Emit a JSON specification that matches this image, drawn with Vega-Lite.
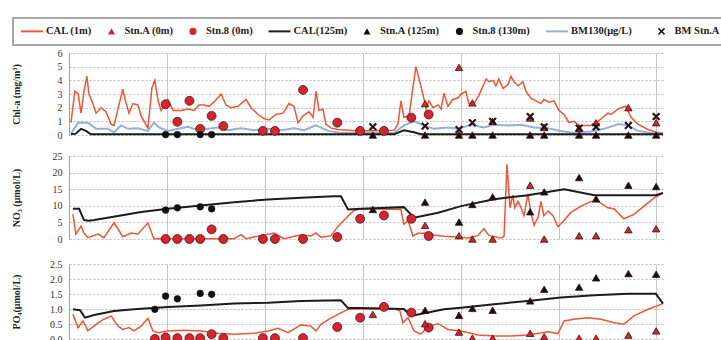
{
"$schema": "https://vega.github.io/schema/vega-lite/v6.json",
"padding": {"left": 10, "top": 17, "right": 0, "bottom": 0},
"autosize": {"type": "pad"},
"bounds": "flush",
"spacing": 21,
"datasets": {
"chl": [
{"series":"CAL (1m)","day":0.6,"value":0.9},{"series":"CAL (1m)","day":1.8,"value":3.2},{"series":"CAL (1m)","day":2.8,"value":3.0},{"series":"CAL (1m)","day":3.7,"value":1.6},{"series":"CAL (1m)","day":4.6,"value":3.2},{"series":"CAL (1m)","day":5.5,"value":4.3},{"series":"CAL (1m)","day":6.1,"value":3.0},{"series":"CAL (1m)","day":7.0,"value":2.5},{"series":"CAL (1m)","day":8.3,"value":1.6},{"series":"CAL (1m)","day":9.8,"value":2.0},{"series":"CAL (1m)","day":11.3,"value":1.7},{"series":"CAL (1m)","day":12.9,"value":0.8},{"series":"CAL (1m)","day":13.8,"value":0.7},{"series":"CAL (1m)","day":15.3,"value":2.2},{"series":"CAL (1m)","day":16.5,"value":3.35},{"series":"CAL (1m)","day":17.2,"value":2.6},{"series":"CAL (1m)","day":18.4,"value":1.6},{"series":"CAL (1m)","day":19.6,"value":2.3},{"series":"CAL (1m)","day":21.1,"value":2.2},{"series":"CAL (1m)","day":22.1,"value":1.4},{"series":"CAL (1m)","day":24.2,"value":0.5},{"series":"CAL (1m)","day":25.4,"value":3.45},{"series":"CAL (1m)","day":26.3,"value":4.0},{"series":"CAL (1m)","day":27.3,"value":2.5},{"series":"CAL (1m)","day":28.2,"value":1.8},{"series":"CAL (1m)","day":30.3,"value":2.6},{"series":"CAL (1m)","day":31.9,"value":1.8},{"series":"CAL (1m)","day":34.3,"value":1.8},{"series":"CAL (1m)","day":36.5,"value":1.9},{"series":"CAL (1m)","day":38.3,"value":1.8},{"series":"CAL (1m)","day":39.8,"value":2.2},{"series":"CAL (1m)","day":41.4,"value":2.2},{"series":"CAL (1m)","day":42.9,"value":2.1},{"series":"CAL (1m)","day":44.4,"value":2.4},{"series":"CAL (1m)","day":46.6,"value":3.0},{"series":"CAL (1m)","day":48.1,"value":2.2},{"series":"CAL (1m)","day":49.6,"value":2.0},{"series":"CAL (1m)","day":51.8,"value":2.1},{"series":"CAL (1m)","day":54.2,"value":2.6},{"series":"CAL (1m)","day":55.8,"value":2.0},{"series":"CAL (1m)","day":57.9,"value":1.5},{"series":"CAL (1m)","day":59.7,"value":1.2},{"series":"CAL (1m)","day":61.3,"value":1.1},{"series":"CAL (1m)","day":63.4,"value":1.5},{"series":"CAL (1m)","day":65.6,"value":1.6},{"series":"CAL (1m)","day":67.4,"value":2.3},{"series":"CAL (1m)","day":68.9,"value":2.1},{"series":"CAL (1m)","day":70.2,"value":0.9},{"series":"CAL (1m)","day":71.7,"value":1.4},{"series":"CAL (1m)","day":73.5,"value":1.7},{"series":"CAL (1m)","day":74.8,"value":1.3},{"series":"CAL (1m)","day":75.7,"value":3.2},{"series":"CAL (1m)","day":76.6,"value":1.8},{"series":"CAL (1m)","day":77.8,"value":1.9},{"series":"CAL (1m)","day":78.7,"value":0.8},{"series":"CAL (1m)","day":80.3,"value":0.5},{"series":"CAL (1m)","day":82.4,"value":0.4},{"series":"CAL (1m)","day":85.5,"value":0.35},{"series":"CAL (1m)","day":89.5,"value":0.3},{"series":"CAL (1m)","day":99.6,"value":0.35},{"series":"CAL (1m)","day":100.8,"value":0.8},{"series":"CAL (1m)","day":101.7,"value":2.5},{"series":"CAL (1m)","day":102.6,"value":1.3},{"series":"CAL (1m)","day":104.2,"value":1.4},{"series":"CAL (1m)","day":105.4,"value":3.5},{"series":"CAL (1m)","day":106.3,"value":5.0},{"series":"CAL (1m)","day":107.5,"value":3.9},{"series":"CAL (1m)","day":108.8,"value":2.6},{"series":"CAL (1m)","day":109.4,"value":1.9},{"series":"CAL (1m)","day":110.3,"value":2.5},{"series":"CAL (1m)","day":111.5,"value":2.0},{"series":"CAL (1m)","day":113.1,"value":2.2},{"series":"CAL (1m)","day":114.0,"value":1.9},{"series":"CAL (1m)","day":114.9,"value":3.05},{"series":"CAL (1m)","day":116.1,"value":2.1},{"series":"CAL (1m)","day":117.6,"value":2.6},{"series":"CAL (1m)","day":119.2,"value":2.7},{"series":"CAL (1m)","day":120.1,"value":3.0},{"series":"CAL (1m)","day":121.6,"value":3.2},{"series":"CAL (1m)","day":122.5,"value":2.3},{"series":"CAL (1m)","day":124.1,"value":2.3},{"series":"CAL (1m)","day":125.6,"value":2.9},{"series":"CAL (1m)","day":127.8,"value":4.1},{"series":"CAL (1m)","day":128.7,"value":3.9},{"series":"CAL (1m)","day":129.9,"value":4.0},{"series":"CAL (1m)","day":130.8,"value":3.6},{"series":"CAL (1m)","day":131.7,"value":4.1},{"series":"CAL (1m)","day":133.0,"value":3.4},{"series":"CAL (1m)","day":134.5,"value":3.7},{"series":"CAL (1m)","day":135.4,"value":4.3},{"series":"CAL (1m)","day":136.3,"value":3.9},{"series":"CAL (1m)","day":137.6,"value":3.6},{"series":"CAL (1m)","day":139.1,"value":3.9},{"series":"CAL (1m)","day":140.0,"value":3.2},{"series":"CAL (1m)","day":141.5,"value":2.7},{"series":"CAL (1m)","day":143.1,"value":2.5},{"series":"CAL (1m)","day":144.6,"value":2.3},{"series":"CAL (1m)","day":145.5,"value":2.6},{"series":"CAL (1m)","day":147.1,"value":2.4},{"series":"CAL (1m)","day":148.6,"value":2.5},{"series":"CAL (1m)","day":150.1,"value":1.8},{"series":"CAL (1m)","day":151.7,"value":1.5},{"series":"CAL (1m)","day":153.2,"value":0.9},{"series":"CAL (1m)","day":154.7,"value":1.0},{"series":"CAL (1m)","day":156.3,"value":0.7},{"series":"CAL (1m)","day":157.8,"value":0.7},{"series":"CAL (1m)","day":159.9,"value":0.7},{"series":"CAL (1m)","day":162.1,"value":1.0},{"series":"CAL (1m)","day":163.6,"value":1.3},{"series":"CAL (1m)","day":165.1,"value":1.6},{"series":"CAL (1m)","day":166.1,"value":1.5},{"series":"CAL (1m)","day":168.2,"value":1.9},{"series":"CAL (1m)","day":170.6,"value":2.1},{"series":"CAL (1m)","day":172.2,"value":1.3},{"series":"CAL (1m)","day":174.3,"value":0.8},{"series":"CAL (1m)","day":177.4,"value":0.4},{"series":"CAL (1m)","day":179.8,"value":0.2},{"series":"CAL (1m)","day":182.0,"value":0.15},
{"series":"BM130(μg/L)","day":0.6,"value":0.1},{"series":"BM130(μg/L)","day":2.8,"value":0.9},{"series":"BM130(μg/L)","day":5.8,"value":0.9},{"series":"BM130(μg/L)","day":8.3,"value":0.45},{"series":"BM130(μg/L)","day":11.9,"value":0.45},{"series":"BM130(μg/L)","day":13.8,"value":0.2},{"series":"BM130(μg/L)","day":15.9,"value":0.7},{"series":"BM130(μg/L)","day":18.1,"value":0.45},{"series":"BM130(μg/L)","day":21.1,"value":0.5},{"series":"BM130(μg/L)","day":24.2,"value":0.3},{"series":"BM130(μg/L)","day":26.0,"value":0.9},{"series":"BM130(μg/L)","day":27.6,"value":0.55},{"series":"BM130(μg/L)","day":30.3,"value":0.3},{"series":"BM130(μg/L)","day":33.4,"value":0.45},{"series":"BM130(μg/L)","day":36.5,"value":0.6},{"series":"BM130(μg/L)","day":39.5,"value":0.35},{"series":"BM130(μg/L)","day":42.6,"value":0.45},{"series":"BM130(μg/L)","day":45.6,"value":0.55},{"series":"BM130(μg/L)","day":48.7,"value":0.35},{"series":"BM130(μg/L)","day":52.7,"value":0.5},{"series":"BM130(μg/L)","day":56.7,"value":0.35},{"series":"BM130(μg/L)","day":61.0,"value":0.45},{"series":"BM130(μg/L)","day":65.0,"value":0.35},{"series":"BM130(μg/L)","day":68.9,"value":0.5},{"series":"BM130(μg/L)","day":72.0,"value":0.35},{"series":"BM130(μg/L)","day":75.7,"value":0.7},{"series":"BM130(μg/L)","day":79.4,"value":0.3},{"series":"BM130(μg/L)","day":83.3,"value":0.15},{"series":"BM130(μg/L)","day":89.5,"value":0.15},{"series":"BM130(μg/L)","day":99.6,"value":0.15},{"series":"BM130(μg/L)","day":102.6,"value":0.7},{"series":"BM130(μg/L)","day":105.7,"value":1.0},{"series":"BM130(μg/L)","day":108.8,"value":0.7},{"series":"BM130(μg/L)","day":111.8,"value":0.45},{"series":"BM130(μg/L)","day":116.1,"value":0.55},{"series":"BM130(μg/L)","day":119.2,"value":0.45},{"series":"BM130(μg/L)","day":123.2,"value":0.75},{"series":"BM130(μg/L)","day":127.1,"value":0.55},{"series":"BM130(μg/L)","day":130.2,"value":0.75},{"series":"BM130(μg/L)","day":134.5,"value":0.7},{"series":"BM130(μg/L)","day":138.5,"value":0.75},{"series":"BM130(μg/L)","day":142.5,"value":0.55},{"series":"BM130(μg/L)","day":146.8,"value":0.5},{"series":"BM130(μg/L)","day":150.7,"value":0.3},{"series":"BM130(μg/L)","day":154.7,"value":0.15},{"series":"BM130(μg/L)","day":159.9,"value":0.25},{"series":"BM130(μg/L)","day":163.9,"value":0.45},{"series":"BM130(μg/L)","day":168.5,"value":0.8},{"series":"BM130(μg/L)","day":171.3,"value":0.7},{"series":"BM130(μg/L)","day":174.3,"value":0.3},{"series":"BM130(μg/L)","day":178.3,"value":0.15},{"series":"BM130(μg/L)","day":182.0,"value":0.1},
{"series":"CAL(125m)","day":0.6,"value":0.05},{"series":"CAL(125m)","day":2.1,"value":0.1},{"series":"CAL(125m)","day":3.7,"value":0.45},{"series":"CAL(125m)","day":5.2,"value":0.3},{"series":"CAL(125m)","day":6.7,"value":0.05},{"series":"CAL(125m)","day":99.6,"value":0.05},{"series":"CAL(125m)","day":102.6,"value":0.35},{"series":"CAL(125m)","day":105.7,"value":0.2},{"series":"CAL(125m)","day":107.8,"value":0.05},{"series":"CAL(125m)","day":182.0,"value":0.05},
{"series":"Stn.8 (0m)","day":29.6,"value":2.25},{"series":"Stn.8 (0m)","day":33.2,"value":0.97},{"series":"Stn.8 (0m)","day":36.9,"value":2.5},{"series":"Stn.8 (0m)","day":40.2,"value":0.45},{"series":"Stn.8 (0m)","day":43.7,"value":1.4},{"series":"Stn.8 (0m)","day":47.3,"value":0.65},{"series":"Stn.8 (0m)","day":59.4,"value":0.3},{"series":"Stn.8 (0m)","day":63.1,"value":0.3},{"series":"Stn.8 (0m)","day":71.7,"value":3.3},{"series":"Stn.8 (0m)","day":82.2,"value":0.9},{"series":"Stn.8 (0m)","day":89.2,"value":0.3},{"series":"Stn.8 (0m)","day":96.5,"value":0.3},{"series":"Stn.8 (0m)","day":104.9,"value":1.27},{"series":"Stn.8 (0m)","day":110.2,"value":1.5},
{"series":"Stn.8 (130m)","day":29.6,"value":0.03},{"series":"Stn.8 (130m)","day":33.2,"value":0.03},{"series":"Stn.8 (130m)","day":40.2,"value":0.03},{"series":"Stn.8 (130m)","day":43.7,"value":0.03},
{"series":"Stn.A (0m)","day":109.1,"value":2.3},{"series":"Stn.A (0m)","day":119.5,"value":4.95},{"series":"Stn.A (0m)","day":123.6,"value":2.35},{"series":"Stn.A (0m)","day":129.8,"value":1.0},{"series":"Stn.A (0m)","day":141.3,"value":1.25},{"series":"Stn.A (0m)","day":145.6,"value":0.55},{"series":"Stn.A (0m)","day":156.3,"value":0.5},{"series":"Stn.A (0m)","day":161.5,"value":0.9},{"series":"Stn.A (0m)","day":171.4,"value":2.0},{"series":"Stn.A (0m)","day":179.9,"value":0.9},
{"series":"Stn.A (125m)","day":93.1,"value":0},{"series":"Stn.A (125m)","day":109.1,"value":0},{"series":"Stn.A (125m)","day":119.5,"value":0},{"series":"Stn.A (125m)","day":123.6,"value":0},{"series":"Stn.A (125m)","day":129.8,"value":0},{"series":"Stn.A (125m)","day":141.3,"value":0},{"series":"Stn.A (125m)","day":145.6,"value":0},{"series":"Stn.A (125m)","day":156.3,"value":0},{"series":"Stn.A (125m)","day":161.5,"value":0},{"series":"Stn.A (125m)","day":171.4,"value":0},{"series":"Stn.A (125m)","day":179.9,"value":0},
{"series":"BM Stn.A","day":93.1,"value":0.6},{"series":"BM Stn.A","day":109.1,"value":0.65},{"series":"BM Stn.A","day":119.5,"value":0.4},{"series":"BM Stn.A","day":123.6,"value":0.9},{"series":"BM Stn.A","day":129.8,"value":1.0},{"series":"BM Stn.A","day":141.3,"value":1.35},{"series":"BM Stn.A","day":145.6,"value":0.6},{"series":"BM Stn.A","day":156.3,"value":0.5},{"series":"BM Stn.A","day":161.5,"value":0.6},{"series":"BM Stn.A","day":171.4,"value":0.7},{"series":"BM Stn.A","day":179.9,"value":1.35}
],
"no3": [
{"series":"CAL(125m)","day":1.2,"value":9.1},{"series":"CAL(125m)","day":3.1,"value":9.1},{"series":"CAL(125m)","day":4.6,"value":5.7},{"series":"CAL(125m)","day":6.1,"value":5.5},{"series":"CAL(125m)","day":7.7,"value":5.7},{"series":"CAL(125m)","day":15.0,"value":6.9},{"series":"CAL(125m)","day":22.1,"value":8.1},{"series":"CAL(125m)","day":30.3,"value":9.1},{"series":"CAL(125m)","day":40.4,"value":10.1},{"series":"CAL(125m)","day":50.6,"value":11.1},{"series":"CAL(125m)","day":61.0,"value":11.9},{"series":"CAL(125m)","day":71.1,"value":12.4},{"series":"CAL(125m)","day":81.2,"value":12.9},{"series":"CAL(125m)","day":83.3,"value":12.9},{"series":"CAL(125m)","day":85.5,"value":8.9},{"series":"CAL(125m)","day":89.5,"value":9.1},{"series":"CAL(125m)","day":102.6,"value":9.6},{"series":"CAL(125m)","day":105.7,"value":6.4},{"series":"CAL(125m)","day":113.1,"value":7.9},{"series":"CAL(125m)","day":120.1,"value":9.9},{"series":"CAL(125m)","day":130.2,"value":12.0},{"series":"CAL(125m)","day":140.6,"value":13.2},{"series":"CAL(125m)","day":151.7,"value":15.0},{"series":"CAL(125m)","day":161.0,"value":13.2},{"series":"CAL(125m)","day":171.3,"value":13.2},{"series":"CAL(125m)","day":179.8,"value":13.2},{"series":"CAL(125m)","day":182.0,"value":13.9},
{"series":"CAL (1m)","day":1.2,"value":7.5},{"series":"CAL (1m)","day":2.1,"value":1.5},{"series":"CAL (1m)","day":3.7,"value":3.9},{"series":"CAL (1m)","day":4.6,"value":1.8},{"series":"CAL (1m)","day":5.8,"value":0.4},{"series":"CAL (1m)","day":8.9,"value":1.5},{"series":"CAL (1m)","day":10.7,"value":0.4},{"series":"CAL (1m)","day":13.8,"value":4.9},{"series":"CAL (1m)","day":16.5,"value":0.7},{"series":"CAL (1m)","day":19.0,"value":1.8},{"series":"CAL (1m)","day":21.1,"value":1.5},{"series":"CAL (1m)","day":24.2,"value":4.8},{"series":"CAL (1m)","day":26.0,"value":0.1},{"series":"CAL (1m)","day":50.6,"value":0.1},{"series":"CAL (1m)","day":52.7,"value":1.3},{"series":"CAL (1m)","day":54.2,"value":0.1},{"series":"CAL (1m)","day":62.8,"value":1.8},{"series":"CAL (1m)","day":65.9,"value":0.1},{"series":"CAL (1m)","day":71.1,"value":1.3},{"series":"CAL (1m)","day":74.1,"value":0.9},{"series":"CAL (1m)","day":75.7,"value":1.8},{"series":"CAL (1m)","day":77.2,"value":0.5},{"series":"CAL (1m)","day":80.3,"value":1.0},{"series":"CAL (1m)","day":82.4,"value":3.8},{"series":"CAL (1m)","day":85.5,"value":6.9},{"series":"CAL (1m)","day":87.3,"value":8.6},{"series":"CAL (1m)","day":89.5,"value":9.1},{"series":"CAL (1m)","day":101.7,"value":8.9},{"series":"CAL (1m)","day":102.6,"value":4.5},{"series":"CAL (1m)","day":103.9,"value":5.5},{"series":"CAL (1m)","day":105.4,"value":0.9},{"series":"CAL (1m)","day":106.9,"value":1.7},{"series":"CAL (1m)","day":110.0,"value":1.7},{"series":"CAL (1m)","day":111.8,"value":1.2},{"series":"CAL (1m)","day":114.9,"value":0.8},{"series":"CAL (1m)","day":120.1,"value":0.5},{"series":"CAL (1m)","day":122.2,"value":0.3},{"series":"CAL (1m)","day":125.3,"value":1.0},{"series":"CAL (1m)","day":127.1,"value":3.1},{"series":"CAL (1m)","day":128.7,"value":1.0},{"series":"CAL (1m)","day":132.4,"value":0.3},{"series":"CAL (1m)","day":133.3,"value":0.9},{"series":"CAL (1m)","day":134.2,"value":22.5},{"series":"CAL (1m)","day":135.1,"value":9.4},{"series":"CAL (1m)","day":136.0,"value":13.2},{"series":"CAL (1m)","day":136.6,"value":9.4},{"series":"CAL (1m)","day":137.6,"value":11.3},{"series":"CAL (1m)","day":138.5,"value":9.4},{"series":"CAL (1m)","day":139.4,"value":7.0},{"series":"CAL (1m)","day":140.6,"value":13.6},{"series":"CAL (1m)","day":141.5,"value":8.0},{"series":"CAL (1m)","day":142.5,"value":4.1},{"series":"CAL (1m)","day":143.7,"value":6.5},{"series":"CAL (1m)","day":144.6,"value":11.3},{"series":"CAL (1m)","day":145.5,"value":7.0},{"series":"CAL (1m)","day":146.8,"value":8.4},{"series":"CAL (1m)","day":148.3,"value":7.0},{"series":"CAL (1m)","day":149.8,"value":3.7},{"series":"CAL (1m)","day":151.3,"value":5.2},{"series":"CAL (1m)","day":153.8,"value":8.0},{"series":"CAL (1m)","day":156.9,"value":9.9},{"series":"CAL (1m)","day":159.9,"value":11.3},{"series":"CAL (1m)","day":162.1,"value":11.3},{"series":"CAL (1m)","day":165.1,"value":9.4},{"series":"CAL (1m)","day":167.0,"value":9.1},{"series":"CAL (1m)","day":170.0,"value":6.1},{"series":"CAL (1m)","day":173.1,"value":7.4},{"series":"CAL (1m)","day":176.2,"value":9.9},{"series":"CAL (1m)","day":179.2,"value":12.3},{"series":"CAL (1m)","day":182.0,"value":13.8},
{"series":"Stn.8 (0m)","day":29.6,"value":0},{"series":"Stn.8 (0m)","day":33.2,"value":0},{"series":"Stn.8 (0m)","day":36.9,"value":0},{"series":"Stn.8 (0m)","day":40.2,"value":0},{"series":"Stn.8 (0m)","day":43.7,"value":2.9},{"series":"Stn.8 (0m)","day":47.3,"value":0},{"series":"Stn.8 (0m)","day":59.4,"value":0},{"series":"Stn.8 (0m)","day":63.1,"value":0},{"series":"Stn.8 (0m)","day":71.7,"value":0},{"series":"Stn.8 (0m)","day":82.2,"value":0.6},{"series":"Stn.8 (0m)","day":89.2,"value":6.1},{"series":"Stn.8 (0m)","day":96.5,"value":7.1},{"series":"Stn.8 (0m)","day":104.9,"value":6.1},{"series":"Stn.8 (0m)","day":110.2,"value":0.9},
{"series":"Stn.8 (130m)","day":29.6,"value":8.7},{"series":"Stn.8 (130m)","day":33.2,"value":9.4},{"series":"Stn.8 (130m)","day":40.2,"value":9.7},{"series":"Stn.8 (130m)","day":43.7,"value":9.1},
{"series":"Stn.A (0m)","day":109.1,"value":4.1},{"series":"Stn.A (0m)","day":119.5,"value":1.0},{"series":"Stn.A (0m)","day":123.6,"value":0},{"series":"Stn.A (0m)","day":129.8,"value":0},{"series":"Stn.A (0m)","day":141.3,"value":16.2},{"series":"Stn.A (0m)","day":145.6,"value":0},{"series":"Stn.A (0m)","day":156.3,"value":1.0},{"series":"Stn.A (0m)","day":161.5,"value":1.0},{"series":"Stn.A (0m)","day":171.4,"value":2.8},{"series":"Stn.A (0m)","day":179.9,"value":3.1},
{"series":"Stn.A (125m)","day":93.1,"value":8.9},{"series":"Stn.A (125m)","day":109.1,"value":11.1},{"series":"Stn.A (125m)","day":119.5,"value":5.1},{"series":"Stn.A (125m)","day":123.6,"value":10.4},{"series":"Stn.A (125m)","day":129.8,"value":12.7},{"series":"Stn.A (125m)","day":141.3,"value":8.2},{"series":"Stn.A (125m)","day":145.6,"value":14.2},{"series":"Stn.A (125m)","day":156.3,"value":18.5},{"series":"Stn.A (125m)","day":161.5,"value":12.1},{"series":"Stn.A (125m)","day":171.4,"value":16.2},{"series":"Stn.A (125m)","day":179.9,"value":15.8}
],
"po4": [
{"series":"CAL(125m)","day":1.2,"value":0.99},{"series":"CAL(125m)","day":3.4,"value":0.96},{"series":"CAL(125m)","day":4.9,"value":0.71},{"series":"CAL(125m)","day":7.7,"value":0.8},{"series":"CAL(125m)","day":13.8,"value":0.93},{"series":"CAL(125m)","day":19.9,"value":0.99},{"series":"CAL(125m)","day":30.3,"value":1.07},{"series":"CAL(125m)","day":40.4,"value":1.12},{"series":"CAL(125m)","day":50.6,"value":1.18},{"series":"CAL(125m)","day":61.0,"value":1.21},{"series":"CAL(125m)","day":71.1,"value":1.27},{"series":"CAL(125m)","day":83.3,"value":1.29},{"series":"CAL(125m)","day":85.5,"value":1.03},{"series":"CAL(125m)","day":89.5,"value":1.03},{"series":"CAL(125m)","day":102.6,"value":1.0},{"series":"CAL(125m)","day":104.8,"value":0.77},{"series":"CAL(125m)","day":110.0,"value":0.88},{"series":"CAL(125m)","day":114.9,"value":0.99},{"series":"CAL(125m)","day":120.1,"value":1.04},{"series":"CAL(125m)","day":130.2,"value":1.16},{"series":"CAL(125m)","day":140.6,"value":1.27},{"series":"CAL(125m)","day":150.7,"value":1.38},{"series":"CAL(125m)","day":160.9,"value":1.46},{"series":"CAL(125m)","day":171.3,"value":1.51},{"series":"CAL(125m)","day":179.8,"value":1.51},{"series":"CAL(125m)","day":182.0,"value":1.18},
{"series":"CAL (1m)","day":1.2,"value":0.82},{"series":"CAL (1m)","day":2.8,"value":0.38},{"series":"CAL (1m)","day":4.3,"value":0.6},{"series":"CAL (1m)","day":5.8,"value":0.27},{"series":"CAL (1m)","day":8.9,"value":0.54},{"series":"CAL (1m)","day":10.7,"value":0.66},{"series":"CAL (1m)","day":12.9,"value":0.77},{"series":"CAL (1m)","day":15.0,"value":0.43},{"series":"CAL (1m)","day":16.5,"value":0.32},{"series":"CAL (1m)","day":18.4,"value":0.38},{"series":"CAL (1m)","day":19.9,"value":0.27},{"series":"CAL (1m)","day":22.1,"value":0.43},{"series":"CAL (1m)","day":24.2,"value":0.69},{"series":"CAL (1m)","day":25.7,"value":0.27},{"series":"CAL (1m)","day":27.3,"value":0.21},{"series":"CAL (1m)","day":30.3,"value":0.27},{"series":"CAL (1m)","day":35.2,"value":0.29},{"series":"CAL (1m)","day":40.4,"value":0.27},{"series":"CAL (1m)","day":45.6,"value":0.19},{"series":"CAL (1m)","day":50.6,"value":0.16},{"series":"CAL (1m)","day":56.7,"value":0.19},{"series":"CAL (1m)","day":61.0,"value":0.27},{"series":"CAL (1m)","day":64.0,"value":0.36},{"series":"CAL (1m)","day":67.1,"value":0.21},{"series":"CAL (1m)","day":71.1,"value":0.47},{"series":"CAL (1m)","day":74.1,"value":0.43},{"series":"CAL (1m)","day":75.7,"value":0.27},{"series":"CAL (1m)","day":77.2,"value":0.49},{"series":"CAL (1m)","day":79.7,"value":0.66},{"series":"CAL (1m)","day":82.4,"value":0.82},{"series":"CAL (1m)","day":85.5,"value":0.99},{"series":"CAL (1m)","day":89.5,"value":1.01},{"series":"CAL (1m)","day":100.0,"value":1.0},{"series":"CAL (1m)","day":101.4,"value":0.93},{"series":"CAL (1m)","day":102.3,"value":0.54},{"series":"CAL (1m)","day":103.9,"value":0.71},{"series":"CAL (1m)","day":105.7,"value":0.27},{"series":"CAL (1m)","day":107.8,"value":0.16},{"series":"CAL (1m)","day":110.0,"value":0.43},{"series":"CAL (1m)","day":113.1,"value":0.51},{"series":"CAL (1m)","day":116.1,"value":0.32},{"series":"CAL (1m)","day":120.1,"value":0.27},{"series":"CAL (1m)","day":125.3,"value":0.13},{"series":"CAL (1m)","day":130.2,"value":0.1},{"series":"CAL (1m)","day":135.4,"value":0.1},{"series":"CAL (1m)","day":140.6,"value":0.13},{"series":"CAL (1m)","day":146.8,"value":0.24},{"series":"CAL (1m)","day":149.8,"value":0.18},{"series":"CAL (1m)","day":151.7,"value":0.6},{"series":"CAL (1m)","day":154.7,"value":0.66},{"series":"CAL (1m)","day":159.0,"value":0.71},{"series":"CAL (1m)","day":163.0,"value":0.66},{"series":"CAL (1m)","day":167.0,"value":0.54},{"series":"CAL (1m)","day":170.0,"value":0.49},{"series":"CAL (1m)","day":173.1,"value":0.77},{"series":"CAL (1m)","day":177.4,"value":0.99},{"series":"CAL (1m)","day":182.0,"value":1.18},
{"series":"Stn.8 (0m)","day":26.3,"value":0},{"series":"Stn.8 (0m)","day":29.6,"value":0.05},{"series":"Stn.8 (0m)","day":33.2,"value":0.03},{"series":"Stn.8 (0m)","day":36.9,"value":0.03},{"series":"Stn.8 (0m)","day":40.2,"value":0.03},{"series":"Stn.8 (0m)","day":43.7,"value":0.16},{"series":"Stn.8 (0m)","day":47.3,"value":0.03},{"series":"Stn.8 (0m)","day":59.4,"value":0.03},{"series":"Stn.8 (0m)","day":63.1,"value":0.03},{"series":"Stn.8 (0m)","day":71.7,"value":0.03},{"series":"Stn.8 (0m)","day":82.2,"value":0.4},{"series":"Stn.8 (0m)","day":89.2,"value":0.71},{"series":"Stn.8 (0m)","day":96.5,"value":1.07},{"series":"Stn.8 (0m)","day":104.9,"value":0.88},{"series":"Stn.8 (0m)","day":110.2,"value":0.38},
{"series":"Stn.8 (130m)","day":26.3,"value":0.99},{"series":"Stn.8 (130m)","day":29.6,"value":1.43},{"series":"Stn.8 (130m)","day":33.2,"value":1.34},{"series":"Stn.8 (130m)","day":40.2,"value":1.52},{"series":"Stn.8 (130m)","day":43.7,"value":1.49},
{"series":"Stn.A (0m)","day":93.1,"value":0.82},{"series":"Stn.A (0m)","day":109.1,"value":0.51},{"series":"Stn.A (0m)","day":119.5,"value":0.23},{"series":"Stn.A (0m)","day":123.6,"value":0.03},{"series":"Stn.A (0m)","day":129.8,"value":0.03},{"series":"Stn.A (0m)","day":141.3,"value":0.19},{"series":"Stn.A (0m)","day":145.6,"value":0.08},{"series":"Stn.A (0m)","day":156.3,"value":0.03},{"series":"Stn.A (0m)","day":161.5,"value":0.03},{"series":"Stn.A (0m)","day":171.4,"value":0.13},{"series":"Stn.A (0m)","day":179.9,"value":0.27},
{"series":"Stn.A (125m)","day":109.1,"value":0.96},{"series":"Stn.A (125m)","day":119.5,"value":0.79},{"series":"Stn.A (125m)","day":123.6,"value":1.02},{"series":"Stn.A (125m)","day":129.8,"value":0.96},{"series":"Stn.A (125m)","day":141.3,"value":1.27},{"series":"Stn.A (125m)","day":145.6,"value":1.66},{"series":"Stn.A (125m)","day":156.3,"value":1.73},{"series":"Stn.A (125m)","day":161.5,"value":2.04},{"series":"Stn.A (125m)","day":171.4,"value":2.18},{"series":"Stn.A (125m)","day":179.9,"value":2.16}
]
},
"vconcat": [
{
"data": {"name": "chl"},
"width": 594, "height": 82,
"encoding": {
"x": {"field": "day", "type": "quantitative", "scale": {"domain": [0, 182], "nice": false, "zero": false}, "axis": {"values": [0, 30, 60, 90, 120, 150, 180], "title": null}},
"y": {"field": "value", "type": "quantitative", "scale": {"domain": [0, 6], "nice": false}, "axis": {"values": [0, 1, 2, 3, 4, 5, 6], "title": "Chl-a (mg/m³)", "titleX": -53, "titleBaseline": "middle"}},
"color": {"field": "series", "type": "nominal",
"scale": {"domain": ["CAL (1m)", "Stn.A (0m)", "Stn.8 (0m)", "CAL(125m)", "Stn.A (125m)", "Stn.8 (130m)", "BM130(μg/L)", "BM Stn.A"], "range": ["#f05536", "#d42430", "#d42430", "#1c1c1c", "#111111", "#111111", "#94afd9", "#111111"]},
"legend": {"orient": "none", "legendX": -56, "legendY": -35, "direction": "horizontal", "columns": 8, "title": null, "strokeColor": "#a8a8a8", "fillColor": "#ffffff", "padding": 8, "columnPadding": 15.5, "symbolSize": 50, "labelFont": "Liberation Serif", "labelFontSize": 10.5, "labelFontWeight": "bold", "labelColor": "#222222", "labelLimit": 300,
"encode": {"legend": {"update": {"strokeWidth": {"value": 2}}}, "symbols": {"update": {"shape": {"scale": "shape", "field": "value"}, "fill": {"scale": "color", "field": "value"}, "stroke": {"value": "transparent"}, "strokeWidth": {"value": 0}, "opacity": {"value": 1}, "size": {"value": 50}, "x": {"signal": "indexof(['CAL (1m)','CAL(125m)','BM130(μg/L)'], datum.value) >= 0 ? 11 : (datum.value === 'BM Stn.A' ? 14 : 4)"}}}, "labels": {"update": {"x": {"signal": "indexof(['CAL (1m)','CAL(125m)','BM130(μg/L)'], datum.value) >= 0 ? 25 : (datum.value === 'BM Stn.A' ? 27 : 17)"}}}}}}
},
"layer": [
{"transform": [{"filter": "datum.series === 'CAL (1m)'"}], "mark": {"type": "line", "strokeWidth": 1.5}},
{"transform": [{"filter": "datum.series === 'BM130(μg/L)'"}], "mark": {"type": "line", "strokeWidth": 2}},
{"transform": [{"filter": "datum.series === 'CAL(125m)'"}], "mark": {"type": "line", "strokeWidth": 2}},
{"transform": [{"filter": "datum.series === 'Stn.8 (0m)'"}], "mark": {"type": "point", "filled": true, "opacity": 1, "size": 80, "stroke": "#4d1414", "strokeWidth": 0.8},
 "encoding": {"shape": {"field": "series", "type": "nominal", "scale": {"domain": ["CAL (1m)", "Stn.A (0m)", "Stn.8 (0m)", "CAL(125m)", "Stn.A (125m)", "Stn.8 (130m)", "BM130(μg/L)", "BM Stn.A"], "range": ["M-3.1,-0.28H3.1V0.28H-3.1Z", "triangle-up", "circle", "M-3.1,-0.28H3.1V0.28H-3.1Z", "triangle-up", "circle", "M-3.1,-0.28H3.1V0.28H-3.1Z", "M-1,-0.7L-0.7,-1L0,-0.3L0.7,-1L1,-0.7L0.3,0L1,0.7L0.7,1L0,0.3L-0.7,1L-1,0.7L-0.3,0Z"]}}}},
{"transform": [{"filter": "datum.series === 'Stn.8 (130m)'"}], "mark": {"type": "point", "filled": true, "opacity": 1, "size": 45, "stroke": "#111111", "strokeWidth": 0.5},
 "encoding": {"shape": {"field": "series", "type": "nominal"}}},
{"transform": [{"filter": "datum.series === 'Stn.A (0m)' || datum.series === 'Stn.A (125m)' || datum.series === 'BM Stn.A'"}], "mark": {"type": "point", "filled": true, "opacity": 1, "size": 55, "stroke": "#3a1010", "strokeWidth": 0.8},
 "encoding": {"shape": {"field": "series", "type": "nominal"}}}
]
},
{
"bounds": "flush",
"spacing": 25,
"vconcat": [
{
"data": {"name": "no3"},
"width": 594, "height": 83,
"encoding": {
"x": {"field": "day", "type": "quantitative", "scale": {"domain": [0, 182], "nice": false, "zero": false}, "axis": {"values": [0, 30, 60, 90, 120, 150, 180], "title": null}},
"y": {"field": "value", "type": "quantitative", "scale": {"domain": [0, 25], "nice": false}, "axis": {"values": [0, 5, 10, 15, 20, 25], "title": "NO₃ (μmol/L)", "titleX": -53, "titleBaseline": "middle"}},
"color": {"field": "series", "type": "nominal"}
},
"layer": [
{"transform": [{"filter": "datum.series === 'CAL (1m)'"}], "mark": {"type": "line", "strokeWidth": 1.5}},
{"transform": [{"filter": "datum.series === 'CAL(125m)'"}], "mark": {"type": "line", "strokeWidth": 2}},
{"transform": [{"filter": "datum.series === 'Stn.8 (0m)'"}], "mark": {"type": "point", "filled": true, "opacity": 1, "size": 80, "stroke": "#4d1414", "strokeWidth": 0.8}, "encoding": {"shape": {"field": "series", "type": "nominal"}}},
{"transform": [{"filter": "datum.series === 'Stn.8 (130m)'"}], "mark": {"type": "point", "filled": true, "opacity": 1, "size": 45, "stroke": "#111111", "strokeWidth": 0.5}, "encoding": {"shape": {"field": "series", "type": "nominal"}}},
{"transform": [{"filter": "datum.series === 'Stn.A (0m)' || datum.series === 'Stn.A (125m)'"}], "mark": {"type": "point", "filled": true, "opacity": 1, "size": 55, "stroke": "#3a1010", "strokeWidth": 0.8}, "encoding": {"shape": {"field": "series", "type": "nominal"}}}
]
},
{
"data": {"name": "po4"},
"width": 594, "height": 75,
"encoding": {
"x": {"field": "day", "type": "quantitative", "scale": {"domain": [0, 182], "nice": false, "zero": false}, "axis": {"values": [0, 30, 60, 90, 120, 150, 180], "title": null}},
"y": {"field": "value", "type": "quantitative", "scale": {"domain": [0, 2.5], "nice": false}, "axis": {"values": [0, 0.5, 1, 1.5, 2, 2.5], "title": "PO₄(μmol/L)", "titleX": -53, "titleBaseline": "middle"}},
"color": {"field": "series", "type": "nominal"}
},
"layer": [
{"transform": [{"filter": "datum.series === 'CAL (1m)'"}], "mark": {"type": "line", "strokeWidth": 1.5}},
{"transform": [{"filter": "datum.series === 'CAL(125m)'"}], "mark": {"type": "line", "strokeWidth": 2}},
{"transform": [{"filter": "datum.series === 'Stn.8 (0m)'"}], "mark": {"type": "point", "filled": true, "opacity": 1, "size": 80, "stroke": "#4d1414", "strokeWidth": 0.8}, "encoding": {"shape": {"field": "series", "type": "nominal"}}},
{"transform": [{"filter": "datum.series === 'Stn.8 (130m)'"}], "mark": {"type": "point", "filled": true, "opacity": 1, "size": 45, "stroke": "#111111", "strokeWidth": 0.5}, "encoding": {"shape": {"field": "series", "type": "nominal"}}},
{"transform": [{"filter": "datum.series === 'Stn.A (0m)' || datum.series === 'Stn.A (125m)'"}], "mark": {"type": "point", "filled": true, "opacity": 1, "size": 55, "stroke": "#3a1010", "strokeWidth": 0.8}, "encoding": {"shape": {"field": "series", "type": "nominal"}}}
]
}
]
}
],
"config": {
"view": {"stroke": null},
"font": "Liberation Serif",
"axisX": {"grid": true, "gridColor": "#c6c6c6", "gridWidth": 1, "labels": false, "ticks": false, "domain": false},
"axisY": {"grid": true, "gridColor": "#bdbdbd", "gridDash": [2, 2], "ticks": false, "domainColor": "#a0a0a0", "labelFont": "Liberation Serif", "labelFontSize": 10, "labelColor": "#333333", "labelPadding": 7, "titleFont": "Liberation Serif", "titleFontSize": 10, "titleFontWeight": "bold", "titleColor": "#222222"}
}
}
